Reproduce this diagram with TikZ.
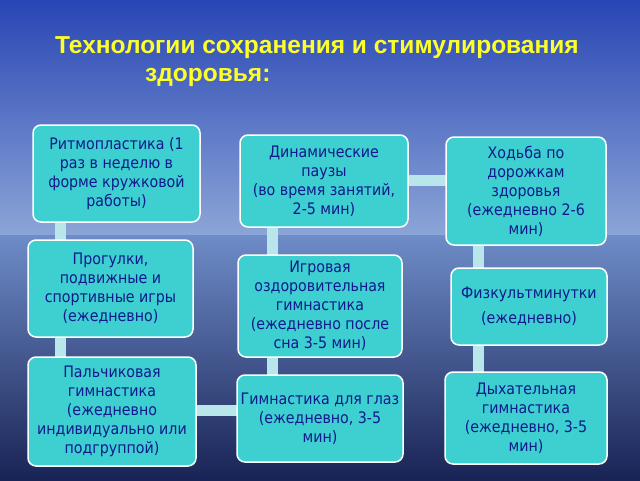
\documentclass[tikz,border=0pt]{standalone}
\usepackage{fontspec}
\setmainfont{DejaVu Sans Condensed}
\newfontfamily\titlefont{Liberation Sans}
\begin{document}
\begin{tikzpicture}[x=1pt,y=-1pt,
  box/.style={draw=white,line width=1.5pt,fill=boxc,rounded corners=8pt,align=center,
    text=navy,font=\fontsize{15.8}{19}\selectfont,inner sep=2pt},
  bar/.style={draw=barc,line width=11pt}]
\definecolor{boxc}{HTML}{3ECFD0}
\definecolor{barc}{HTML}{B8E6EA}
\definecolor{navy}{HTML}{101A8C}
\useasboundingbox (0,0) rectangle (640,480);
\shade[top color={rgb,255:red,40;green,70;blue,180},bottom color={rgb,255:red,140;green,165;blue,215}] (0,0) rectangle (640,235);
\shade[top color={rgb,255:red,110;green,140;blue,200},bottom color={rgb,255:red,25;green,35;blue,85}] (0,235) rectangle (640,480);
\node[font=\titlefont\bfseries\fontsize{24.5}{28}\selectfont,text={rgb,255:red,255;green,255;blue,40},anchor=west,inner sep=0] (t1) at (55,48) {Технологии сохранения и стимулирования};
\node[font=\titlefont\bfseries\fontsize{24.5}{28}\selectfont,text={rgb,255:red,255;green,255;blue,40},anchor=west,inner sep=0] (t2) at (145,77) {здоровья:};
\draw[bar] (60,215) -- (60,250);
\draw[bar] (60,330) -- (60,365);
\draw[bar] (190,410) -- (245,410);
\draw[bar] (272,220) -- (272,262);
\draw[bar] (272,350) -- (272,382);
\draw[bar] (400,180) -- (455,180);
\draw[bar] (478,238) -- (478,275);
\draw[bar] (478,340) -- (478,380);
\node[box,minimum width=167,minimum height=97] (b1) at (116.5,173.5) {Ритмопластика (1\\раз в неделю в\\форме кружковой\\работы)};
\node[box,minimum width=165,minimum height=97] (b2) at (110.5,288.5) {Прогулки,\\подвижные и\\спортивные игры\\(ежедневно)};
\node[box,minimum width=168,minimum height=109] (b3) at (112,411.5) {Пальчиковая\\гимнастика\\(ежедневно\\индивидуально или\\подгруппой)};
\node[box,minimum width=168,minimum height=92] (b4) at (324,181) {Динамические\\паузы\\(во время занятий,\\2-5 мин)};
\node[box,minimum width=164,minimum height=102] (b5) at (320,306) {Игровая\\оздоровительная\\гимнастика\\(ежедневно после\\сна 3-5 мин)};
\node[box,minimum width=166,minimum height=87] (b6) at (320,418.5) {Гимнастика для глаз\\(ежедневно, 3-5\\мин)};
\node[box,minimum width=160,minimum height=108] (b7) at (526,191) {Ходьба по\\дорожкам\\здоровья\\(ежедневно 2-6\\мин)};
\node[box,minimum width=156,minimum height=77] (b8) at (529,306.5) {Физкультминутки\\[6pt](ежедневно)};
\node[box,minimum width=162,minimum height=92] (b9) at (526,418) {Дыхательная\\гимнастика\\(ежедневно, 3-5\\мин)};
\end{tikzpicture}
\end{document}
